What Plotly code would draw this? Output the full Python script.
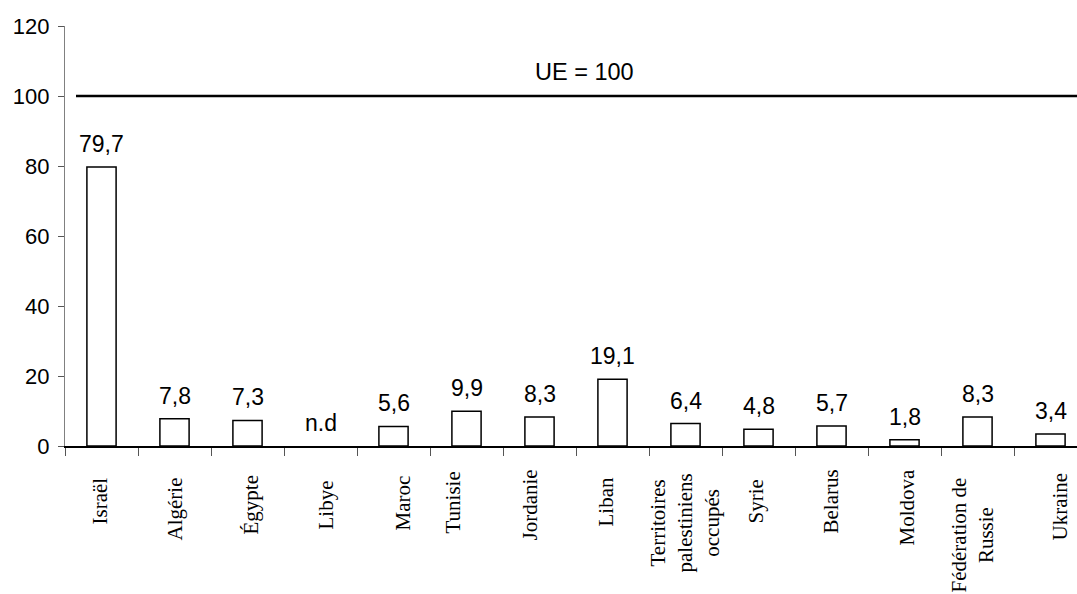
import plotly.graph_objects as go

# ---- data ----
categories = ["Israël", "Algérie", "Égypte", "Libye", "Maroc", "Tunisie", "Jordanie", "Liban",
              "Territoires palestiniens occupés", "Syrie", "Belarus", "Moldova",
              "Fédération de Russie", "Ukraine"]
tick_labels = ["Israël", "Algérie", "Égypte", "Libye", "Maroc", "Tunisie", "Jordanie", "Liban",
               "Territoires<br>palestiniens<br>occupés", "Syrie", "Belarus", "Moldova",
               "Fédération de<br>Russie", "Ukraine"]
values = [79.7, 7.8, 7.3, None, 5.6, 9.9, 8.3, 19.1, 6.4, 4.8, 5.7, 1.8, 8.3, 3.4]
missing_label = "n.d"
eu_level = 100
eu_label = "UE = 100"
y_ticks = [0, 20, 40, 60, 80, 100, 120]

# ---- layout geometry (pixels) ----
W, H = 1077, 594
ML, MT = 65, 26
PLOT_BOTTOM = 446
PH = PLOT_BOTTOM - MT
cat_px = 73.0
x_end = -0.5 + (W - ML) / cat_px

def ypaper(py):
    return (PLOT_BOTTOM - py) / PH

# per-label placement tweaks (pixel centre of rotated label, x shift)
label_center_py = [501, 509, 505, 505, 503, 503, 505, 502, 523, 502, 502, 507, 535, 507]
label_xshift = [-2, 0, 3, 5, 9, -14, -10, -7, -1, -3, -1, 2, -6, 9]

fig = go.Figure()
fig.add_trace(go.Bar(
    x=categories, y=values,
    width=0.4,
    marker=dict(color="white", line=dict(color="black", width=1.5)),
    hoverinfo="skip",
))

sans = "Liberation Sans, Arial, sans-serif"
serif = "Liberation Serif, Times New Roman, serif"

annotations = []
for i, (c, v) in enumerate(zip(categories, values)):
    txt = f"{v:.1f}".replace(".", ",") if v is not None else missing_label
    annotations.append(dict(
        x=c, y=v if v is not None else 0, xref="x", yref="y",
        text=txt, showarrow=False, yanchor="bottom", xanchor="center",
        yshift=8, font=dict(family=sans, size=23, color="black"),
    ))
    annotations.append(dict(
        x=c, y=ypaper(label_center_py[i]), xref="x", yref="paper",
        text=tick_labels[i], showarrow=False, textangle=-90,
        xanchor="center", yanchor="middle", align="center",
        xshift=label_xshift[i],
        font=dict(family=serif, size=21, color="black"),
    ))

annotations.append(dict(
    x=(584 - ML) / (W - ML), y=eu_level, xref="paper", yref="y",
    text=eu_label, showarrow=False, yanchor="bottom", xanchor="center",
    yshift=9, font=dict(family=sans, size=23.5, color="black"),
))

fig.add_shape(type="line", xref="x", yref="y",
              x0=-0.5 + 11 / cat_px, x1=x_end, y0=eu_level, y1=eu_level,
              line=dict(color="black", width=2.5))

fig.update_layout(
    width=W, height=H,
    margin=dict(l=ML, r=0, t=MT, b=H - PLOT_BOTTOM, autoexpand=False),
    paper_bgcolor="white", plot_bgcolor="white",
    showlegend=False,
    annotations=annotations,
    xaxis=dict(
        type="category", range=[-0.5, x_end],
        showticklabels=False, ticks="outside", tickson="boundaries",
        ticklen=8, tickcolor="#555555", tickwidth=1.2,
        showline=True, linecolor="black", linewidth=1.5,
        showgrid=False, zeroline=False, fixedrange=True,
    ),
    yaxis=dict(
        range=[0, 120], tickvals=y_ticks,
        ticks="outside", ticklen=6, tickcolor="#555555", tickwidth=1.2,
        showline=True, linecolor="#808080", linewidth=1.2,
        showgrid=False, zeroline=False,
        tickfont=dict(family=sans, size=22, color="black"),
        ticklabelstandoff=4,
    ),
)

fig.write_html(
    "out.html",
    config={"displayModeBar": False},
    post_script="document.body.style.margin='0';document.documentElement.style.overflow='hidden';",
)
